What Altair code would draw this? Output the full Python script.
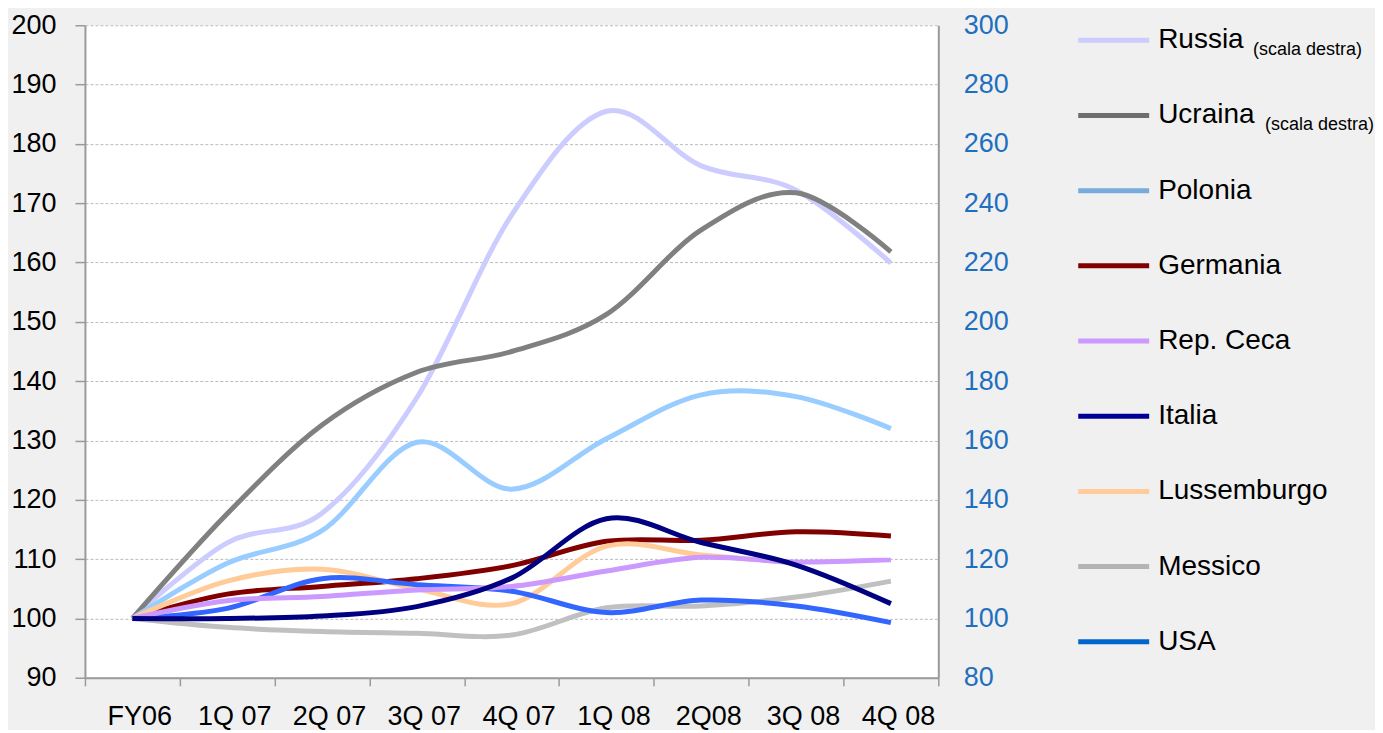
import altair as alt
import pandas as pd

# ---------------- data ----------------
categories = ["FY06", "1Q 07", "2Q 07", "3Q 07", "4Q 07", "1Q 08", "2Q08", "3Q 08", "4Q 08"]

# right scale (scala destra)
russia = [100, 125.5, 135.5, 174.4, 236.0, 271.0, 252.6, 244.4, 219.8]
ucraina = [100, 135.3, 165.2, 183.0, 190.0, 202.5, 231.0, 243.5, 223.6]

# left scale
polonia = [100, 109.3, 114.8, 129.7, 121.8, 130.3, 137.7, 137.4, 132.0]
germania = [100, 104.1, 105.4, 106.7, 108.9, 113.0, 113.2, 114.6, 113.9]
rep_ceca = [100, 103.0, 103.7, 104.8, 105.4, 108.0, 110.3, 109.5, 109.9]
italia = [100, 100.0, 100.4, 102.0, 106.8, 116.8, 112.8, 109.0, 102.5]
lussemburgo = [100, 106.3, 108.3, 105.0, 102.5, 112.2, 110.7, 109.4, None]
messico = [100, 98.5, 97.8, 97.5, 97.2, 101.8, 102.1, 103.6, 106.3]
usa = [100, 101.7, 106.7, 105.7, 104.6, 101.0, 103.1, 102.1, 99.3]

series_order = ["Russia", "Ucraina", "Polonia", "Germania", "Rep. Ceca",
                "Italia", "Lussemburgo", "Messico", "USA"]
line_colors = ["#CCCCFF", "#808080", "#99CCFF", "#800000", "#CC99FF",
               "#000080", "#FFCC99", "#C0C0C0", "#3366FF"]
legend_colors = ["#CCCCFF", "#6E6E6E", "#77AADD", "#800000", "#CC99FF",
                 "#000099", "#FFCC99", "#B4B4B4", "#0066CC"]

right_values = {"Russia": russia, "Ucraina": ucraina}
left_values = {"Polonia": polonia, "Germania": germania, "Rep. Ceca": rep_ceca,
               "Italia": italia, "Lussemburgo": lussemburgo, "Messico": messico,
               "USA": usa}
left_draw_order = ["Polonia", "Germania", "Lussemburgo", "Messico", "USA",
                   "Rep. Ceca", "Italia"]
right_draw_order = ["Russia", "Ucraina"]


def long_df(values):
    rows = []
    for name, vals in values.items():
        for cat, v in zip(categories, vals):
            if v is not None:
                rows.append({"series": name, "cat": cat, "value": v})
    return pd.DataFrame(rows)


df_left = long_df(left_values)
df_right = long_df(right_values)

FONT = "Liberation Sans"
AXIS_GRAY = "#9A9A9A"

x_enc = alt.X(
    "cat:N",
    sort=categories,
    bandPosition=0.5,
    scale=alt.Scale(type="band", paddingInner=0, paddingOuter=0),
    axis=alt.Axis(
        title=None, labelAngle=0, tickBand="extent", grid=False,
        labelFont=FONT, labelFontSize=27, labelColor="black",
        labelPadding=18, labelOffset=7, tickSize=8, tickColor=AXIS_GRAY,
        domainColor=AXIS_GRAY, domainWidth=2, tickWidth=1.5,
    ),
)

color_enc = alt.Color("series:N",
                      scale=alt.Scale(domain=series_order, range=line_colors),
                      legend=None)

line_kw = dict(strokeWidth=5, interpolate="cardinal", tension=0)

y_left = alt.Y(
    "value:Q",
    scale=alt.Scale(domain=[90, 200], nice=False, zero=False),
    axis=alt.Axis(
        title=None, orient="left", values=list(range(90, 201, 10)),
        labelFont=FONT, labelFontSize=27, labelColor="black",
        labelPadding=19, tickSize=10, tickColor=AXIS_GRAY, tickWidth=1.5,
        domainColor=AXIS_GRAY, domainWidth=2,
        grid=True, gridColor="#BBBBBB", gridDash=[3, 2], gridWidth=1,
    ),
)

y_right = alt.Y(
    "value:Q",
    scale=alt.Scale(domain=[80, 300], nice=False, zero=False),
    axis=alt.Axis(
        title=None, orient="right", values=list(range(80, 301, 20)),
        labelFont=FONT, labelFontSize=27, labelColor="#1F6FBF",
        labelPadding=25, ticks=False, domainColor=AXIS_GRAY, domainWidth=2,
        grid=False,
    ),
)

right_layers = [
    alt.Chart(df_right).transform_filter(alt.datum.series == s)
    .mark_line(**line_kw).encode(x=x_enc, y=y_right, color=color_enc)
    for s in right_draw_order
]
left_layers = [
    alt.Chart(df_left).transform_filter(alt.datum.series == s)
    .mark_line(**line_kw).encode(x=x_enc, y=y_left, color=color_enc)
    for s in left_draw_order
]

main = (
    alt.layer(alt.layer(*right_layers), alt.layer(*left_layers))
    .resolve_scale(y="independent")
    .properties(width=854, height=653,
                view=alt.ViewBackground(fill="white", stroke=None))
)

# ---------------- custom legend ----------------
legend_df = pd.DataFrame({"series": series_order})
y_leg = alt.Y("series:N", sort=series_order, axis=None,
              scale=alt.Scale(type="point", range=[15, 617], padding=0))
leg_color = alt.Color("series:N",
                      scale=alt.Scale(domain=series_order, range=legend_colors),
                      legend=None)

swatches = alt.Chart(legend_df).mark_rule(strokeWidth=5).encode(
    x=alt.value(0), x2=alt.value(71), y=y_leg, color=leg_color)
labels = alt.Chart(legend_df).mark_text(
    align="left", baseline="middle", dx=80, font=FONT, fontSize=28, color="black"
).encode(x=alt.value(0), y=y_leg, text="series:N")
sub_russia = alt.Chart(legend_df).transform_filter(alt.datum.series == "Russia").mark_text(
    align="left", baseline="middle", dx=175, dy=10, font=FONT, fontSize=18, color="black"
).encode(x=alt.value(0), y=y_leg, text=alt.value("(scala destra)"))
sub_ucraina = alt.Chart(legend_df).transform_filter(alt.datum.series == "Ucraina").mark_text(
    align="left", baseline="middle", dx=187, dy=10, font=FONT, fontSize=18, color="black"
).encode(x=alt.value(0), y=y_leg, text=alt.value("(scala destra)"))

legend = alt.layer(swatches, labels, sub_russia, sub_ucraina).properties(
    width=297, height=653, view=alt.ViewBackground(fill=None, stroke=None))

chart = (
    alt.hconcat(main, legend, spacing=140, bounds="flush")
    .resolve_scale(color="independent", y="independent")
    .configure(background="#F0F0F0", padding={"left": 2, "top": 3, "right": 0, "bottom": 0})
    .configure_view(stroke=None)
)

chart.save("out.html", embed_options={"renderer": "svg", "actions": False})
